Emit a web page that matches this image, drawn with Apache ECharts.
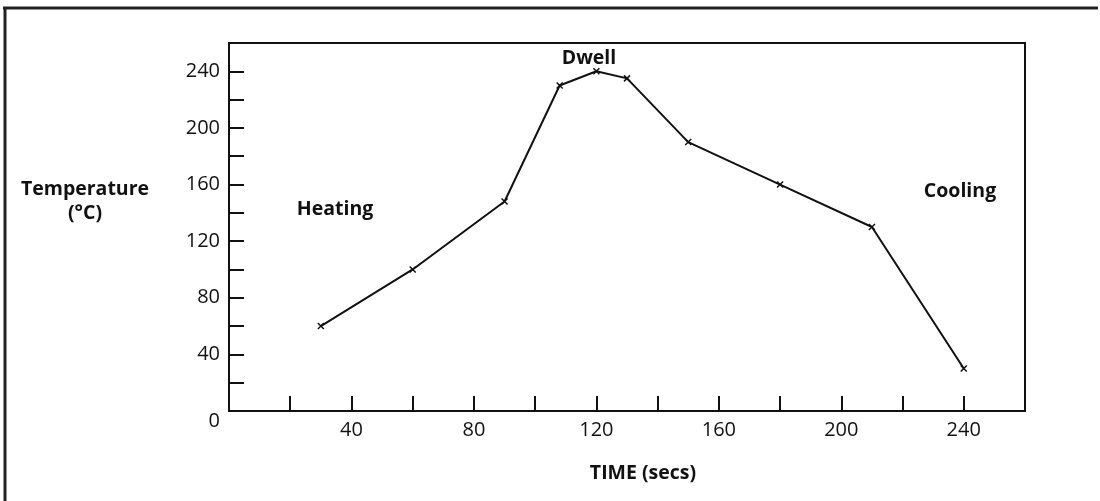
<!DOCTYPE html>
<html>
<head>
<meta charset="utf-8">
<script src="https://cdn.jsdelivr.net/npm/echarts@6/dist/echarts.min.js"></script>
<style>
  html, body { margin: 0; padding: 0; background: #fff; }
  #chart { width: 1100px; height: 501px; }
</style>
</head>
<body>
<div id="chart"></div>
<script>
// reflow profile: time (secs) vs temperature (°C)
var timeSecs = [30, 60, 90, 108, 120, 130, 150, 180, 210, 240];
var tempC = [60, 100, 148, 230, 240, 235, 190, 160, 130, 30];
var xLabels = [40, 80, 120, 160, 200, 240];
var yLabels = [0, 40, 80, 120, 160, 200, 240];
var phaseNames = ['Heating', 'Dwell', 'Cooling'];

var font = '"Open Sans", "DejaVu Sans", sans-serif';
var chartDom = document.getElementById('chart');
var myChart = echarts.init(chartDom);

var points = timeSecs.map(function (t, i) { return [t, tempC[i]]; });

// bold text helper for the free-standing labels
function label(x, y, text) {
  return {
    type: 'text', x: x, y: y,
    style: { text: text, fontFamily: font, fontWeight: 'bold', fontSize: 19.5, fill: '#111', align: 'center', verticalAlign: 'middle' }
  };
}

var option = {
  backgroundColor: '#fff',
  animation: false,
  grid: {
    left: 229, top: 43, width: 796, height: 368,
    show: true, borderColor: '#111', borderWidth: 2, backgroundColor: 'transparent'
  },
  xAxis: {
    type: 'value', min: 0, max: 260, interval: 20,
    axisLine: { show: true, lineStyle: { color: '#111', width: 2 } },
    axisTick: { show: true, inside: true, length: 15, lineStyle: { color: '#111', width: 2 } },
    splitLine: { show: false },
    axisLabel: {
      margin: 9, color: '#111', fontFamily: font, fontSize: 20, fontWeight: 500,
      formatter: function (v) { return xLabels.indexOf(v) >= 0 ? String(v) : ''; }
    }
  },
  yAxis: {
    type: 'value', min: 0, max: 260, interval: 20,
    axisLine: { show: true, lineStyle: { color: '#111', width: 2 } },
    axisTick: { show: true, inside: true, length: 15, lineStyle: { color: '#111', width: 2 } },
    splitLine: { show: false },
    axisLabel: {
      margin: 9, color: '#111', fontFamily: font, fontSize: 20, fontWeight: 500,
      formatter: function (v) {
        if (v === 0) return '{z|0}';
        return yLabels.indexOf(v) >= 0 ? String(v) : '';
      },
      rich: { z: { fontFamily: font, fontSize: 20, fontWeight: 500, color: '#111', padding: [20, 0, 0, 0] } }
    }
  },
  series: [{
    type: 'line',
    data: points,
    lineStyle: { color: '#111', width: 2 },
    symbol: 'path://M0,0L10,10M10,0L0,10',
    symbolSize: 6,
    itemStyle: { color: 'none', borderColor: '#111', borderWidth: 1.5 }
  }],
  graphic: [
    // outer frame (top and left edges only)
    { type: 'line', shape: { x1: 3, y1: 8, x2: 1098, y2: 8 }, style: { stroke: '#222', lineWidth: 3 } },
    { type: 'line', shape: { x1: 5, y1: 7, x2: 5, y2: 501 }, style: { stroke: '#222', lineWidth: 3 } },
    label(85, 189, 'Temperature'),
    label(85, 213, '(°C)'),
    label(335, 209, phaseNames[0]),
    label(589, 58, phaseNames[1]),
    label(960, 191, phaseNames[2]),
    label(643, 473, 'TIME (secs)')
  ]
};

option && myChart.setOption(option);
</script>
</body>
</html>
